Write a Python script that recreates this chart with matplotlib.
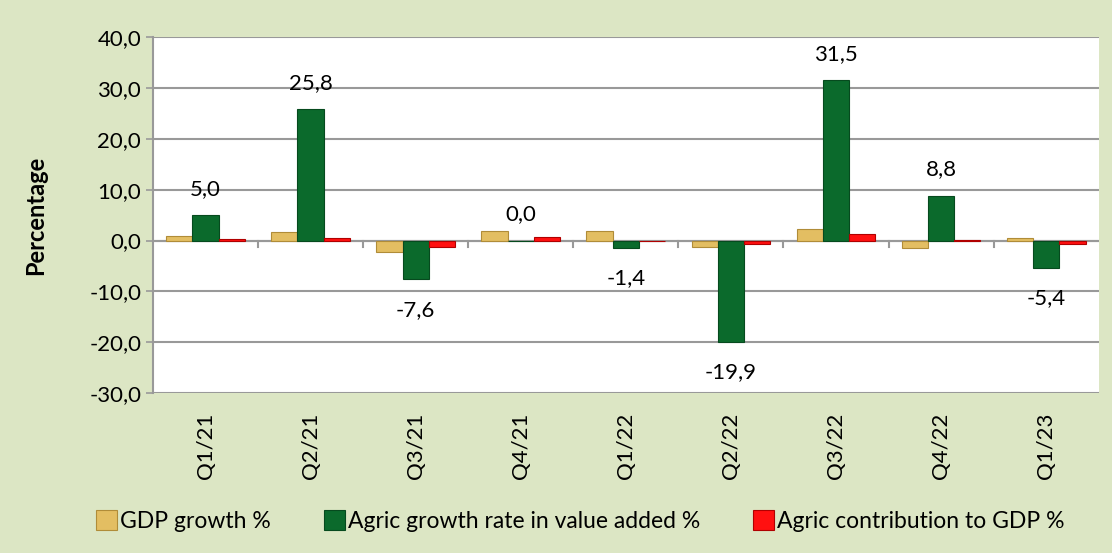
import matplotlib.pyplot as plt
import numpy as np
from matplotlib.ticker import FuncFormatter

quarters = ["Q1/21", "Q2/21", "Q3/21", "Q4/21", "Q1/22", "Q2/22", "Q3/22", "Q4/22", "Q1/23"]
gdp_growth = [0.9, 1.6, -2.3, 1.8, 1.9, -1.2, 2.2, -1.5, 0.6]
agric_growth = [5.0, 25.8, -7.6, 0.0, -1.4, -19.9, 31.5, 8.8, -5.4]
agric_contrib = [0.4, 0.6, -1.2, 0.7, 0.0, -0.7, 1.2, 0.2, -0.6]

series_names = ["GDP growth %", "Agric growth rate in value added %", "Agric contribution to GDP %"]

plt.rcParams['font.family'] = ['Lato', 'DejaVu Sans']

bg = '#DCE6C4'
fig = plt.figure(figsize=(11.12, 5.53), dpi=100, facecolor=bg)
ax = fig.add_axes([0.1376, 0.289, 0.8504, 0.644])
ax.set_facecolor('white')

x = np.arange(len(quarters))
w = 0.25
b1 = ax.bar(x - w, gdp_growth, w, color='#E3BE62', edgecolor='#B08C38', linewidth=0.8,
            label=series_names[0], zorder=3)
b2 = ax.bar(x, agric_growth, w, color='#0B6A2C', edgecolor='#064A1E', linewidth=0.8,
            label=series_names[1], zorder=3)
b3 = ax.bar(x + w, agric_contrib, w, color='#FF1010', edgecolor='#B00000', linewidth=0.8,
            label=series_names[2], zorder=3)

for xi, v in zip(x, agric_growth):
    txt = f"{v:.1f}".replace('.', ',')
    off = 19 if v >= 0 else -22
    ax.annotate(txt, (xi, v), xytext=(0, off), textcoords='offset points',
                ha='center', va='center', fontsize=16, zorder=4)

ax.set_ylim(-30, 40)
ax.set_xlim(-0.5, len(quarters) - 0.5)
ax.set_yticks(np.arange(-30, 41, 10))
ax.yaxis.set_major_formatter(FuncFormatter(lambda v, p: f"{v:.1f}".replace('.', ',')))
ax.tick_params(axis='y', labelsize=16, color='#999999', length=5, width=1.2)
ax.yaxis.grid(True, color='#999999', linewidth=1.5, zorder=0)
ax.set_axisbelow(True)

# category labels below the plot area
ax.set_xticks([])
for xi, q in zip(x, quarters):
    ax.text(xi, -33.8, q, rotation=90, ha='center', va='top', fontsize=16)

# zero axis with ticks between categories
ax.axhline(0, color='#999999', linewidth=1.5, zorder=2)
for b in np.arange(0.5, len(quarters) - 0.5, 1):
    ax.plot([b, b], [0, -1.2], color='#999999', linewidth=1.5, zorder=2)

for s in ['top', 'right', 'bottom']:
    ax.spines[s].set_visible(False)
ax.spines['left'].set_color('#999999')
ax.spines['left'].set_linewidth(1.5)

ax.set_ylabel("Percentage", fontsize=17, fontweight='bold', labelpad=30)

fig.legend(handles=[b1, b2, b3], loc='center', bbox_to_anchor=(0.522, 0.058), ncol=3,
           frameon=False, fontsize=16.5, handlelength=0.9, handleheight=1.0,
           handletextpad=0.15, columnspacing=2.3)

fig.savefig("out.png", dpi=100, facecolor=bg)
